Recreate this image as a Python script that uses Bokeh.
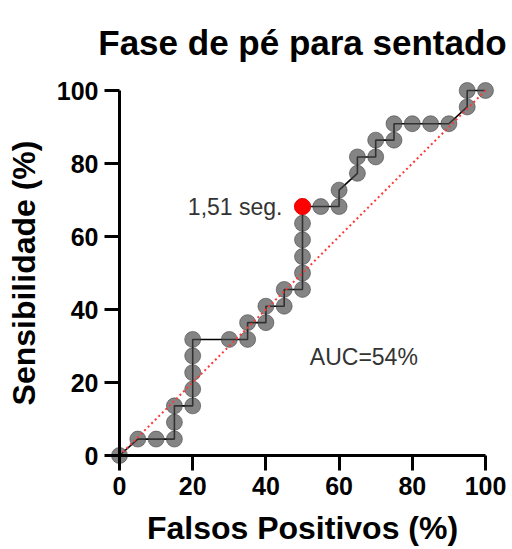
from bokeh.plotting import figure
from bokeh.models import FixedTicker, Label, Range1d, ColumnDataSource
from bokeh.core.properties import value
from bokeh.embed import file_html
from bokeh.resources import INLINE

# ROC points: false positive rate (%) and sensitivity (%)
falsos_positivos = [0, 5, 10, 15, 15, 15, 20, 20, 20, 20, 20, 30, 35, 35, 40, 40,
                    45, 45, 50, 50, 50, 50, 50, 50, 55, 60, 60, 65, 65, 70, 70,
                    75, 75, 80, 85, 90, 95, 95, 100]
sensibilidade = [0, 4.5, 4.5, 4.5, 9.1, 13.6, 13.6, 18.2, 22.7, 27.3, 31.8, 31.8,
                 31.8, 36.4, 36.4, 40.9, 40.9, 45.5, 45.5, 50.0, 54.5, 59.1, 63.6,
                 68.2, 68.2, 68.2, 72.7, 77.3, 81.8, 81.8, 86.4, 86.4, 90.9, 90.9,
                 90.9, 90.9, 95.5, 100, 100]

# chance line
ref_x = [0, 100]
ref_y = [0, 100]

# chosen cut-off
corte_x = [50]
corte_y = [68.2]
corte_label = "1,51 seg."
auc_text = "AUC=54%"
titulo = "Fase de pé para sentado"

ticks = [0, 20, 40, 60, 80, 100]

FONT = "Liberation Sans"

p = figure(width=512, height=549, x_range=Range1d(0, 100), y_range=Range1d(0, 100),
           output_backend="svg", toolbar_location=None,
           min_border_left=119, min_border_right=27, min_border_top=90, min_border_bottom=94)

p.outline_line_color = None
p.xgrid.visible = False
p.ygrid.visible = False
p.background_fill_color = "white"
p.border_fill_color = "white"

# markers sit on the axes at the range ends, so draw them at a level that is not clipped
src = ColumnDataSource(dict(x=falsos_positivos, y=sensibilidade))
p.line("x", "y", source=src, line_color="black", line_width=1.6, level="annotation")
p.scatter("x", "y", source=src, size=16, fill_color="#4a4a4a", fill_alpha=0.68,
          line_color="#333333", line_alpha=0.5, line_width=1, level="annotation")
p.line(ref_x, ref_y, line_color="#ff3838", line_width=2, line_dash="2 3", level="annotation")
p.scatter(corte_x, corte_y, size=16, fill_color="#ff0000", line_color="#ff0000",
          level="annotation")

p.add_layout(Label(x=corte_x[0], y=corte_y[0], text=corte_label, x_offset=-20,
                   text_align="right", text_baseline="middle", text_font=FONT,
                   text_font_size="23px", text_color="#333333"))
p.add_layout(Label(x=52, y=27, text=auc_text, text_align="left", text_baseline="middle",
                   text_font=FONT, text_font_size="23px", text_color="#333333"))

# chart title, centred over the plot area
p.text(x=[50], y=[100], text=[titulo], y_offset=-48, text_align="center",
       text_baseline="alphabetic", text_font=value(FONT), text_font_size="35px",
       text_font_style="bold", text_color="black", level="annotation")

for ax, lab in ((p.xaxis[0], "Falsos Positivos (%)"), (p.yaxis[0], "Sensibilidade (%)")):
    ax.level = "overlay"
    ax.ticker = FixedTicker(ticks=ticks)
    ax.minor_tick_line_color = None
    ax.major_tick_in = 0
    ax.major_tick_out = 15
    ax.major_tick_line_width = 3
    ax.axis_line_width = 3
    ax.axis_line_color = "black"
    ax.major_tick_line_color = "black"
    ax.major_label_text_font = FONT
    ax.major_label_text_font_size = "25px"
    ax.major_label_text_font_style = "bold"
    ax.major_label_text_color = "black"
    ax.major_label_standoff = 6
    ax.axis_label = lab
    ax.axis_label_text_font = FONT
    ax.axis_label_text_font_size = "32px"
    ax.axis_label_text_font_style = "bold"
    ax.axis_label_text_color = "black"
    ax.axis_label_standoff = 12

open("out.html", "w").write(file_html(p, INLINE))
